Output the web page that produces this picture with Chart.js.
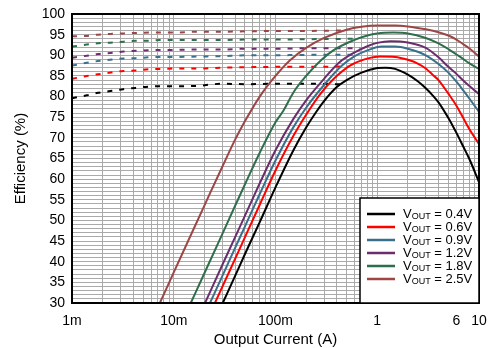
<!DOCTYPE html>
<html><head><meta charset="utf-8">
<script src="https://cdn.jsdelivr.net/npm/chart.js@4.4.0/dist/chart.umd.min.js"></script>
<style>html,body{margin:0;padding:0;background:#fff;}canvas{display:block;}</style>
</head><body>
<canvas id="c" width="490" height="348"></canvas>
<script>
const seriesLabels = ['0.4V', '0.6V', '0.9V', '1.2V', '1.8V', '2.5V'];
const seriesColors = ['#000000', '#ff0000', '#3a6f8c', '#6b2d6b', '#2f6e4c', '#9e4545'];

const curX04 = [0.0303,0.04,0.05,0.07,0.1,0.15,0.2,0.25,0.3,0.4,0.5,0.7,1.0,1.2,1.5,2,2.5,3,3.5,4,5,6,7,8,10];
const effY04 = [30,36.5,41.8,49.6,58.0,67.0,72.5,76.2,78.9,82.3,84.0,85.8,86.9,87.0,86.7,85.3,83.7,82.0,80.3,78.6,74.8,71.2,67.9,65.0,59.3];
const curX06 = [0.0254,0.035,0.05,0.07,0.1,0.15,0.2,0.275,0.37,0.54,0.75,1.07,1.5,2,2.5,3,3.5,4,5,6,7,8,10];
const effY06 = [30,37.5,45.9,53.8,62.1,70.5,75.6,80.6,84.2,87.5,89.0,89.7,89.6,88.9,88.0,86.8,85.3,84.0,80.7,77.8,74.8,72.2,68.5];
const curX09 = [0.0227,0.03,0.04,0.05,0.07,0.1,0.15,0.2,0.3,0.45,0.6,0.8,1.1,1.5,2,3,4,5,6,7,8,10];
const effY09 = [30,36.5,43.3,48.5,56.4,64.5,72.6,77.3,82.8,87.5,89.8,91.2,92.1,92.1,91.6,90.0,87.9,85.8,83.6,81.5,79.6,76.3];
const curX12 = [0.0203,0.03,0.04,0.05,0.07,0.1,0.15,0.2,0.3,0.42,0.6,0.8,1.0,1.35,2,3,4,5,6,7,8,10];
const effY12 = [30,39.2,45.9,51.1,59.0,67.0,74.6,79.1,84.3,88.2,90.7,92.2,93.0,93.4,93.1,91.8,89.5,87.2,85.5,83.9,82.6,80.6];
const curX18 = [0.0147,0.02,0.03,0.04,0.05,0.07,0.1,0.119,0.15,0.2,0.28,0.37,0.58,0.8,1.0,1.44,2,3,4,5,6,7,8,10];
const effY18 = [30,37.2,46.7,53.5,58.7,66.4,73.8,76.5,81.0,85.0,88.8,91.2,93.6,94.8,95.3,95.5,95.3,94.2,92.9,91.5,90.2,89.1,88.1,86.7];
const curX25 = [0.0073,0.01,0.015,0.02,0.03,0.04,0.05,0.07,0.1,0.139,0.2,0.3,0.5,0.7,1.0,1.5,2,3,4,5,6,7,8,10];
const effY25 = [30,37.4,46.9,53.6,63.0,69.5,74.0,80.0,85.0,88.8,91.8,94.2,96.2,96.9,97.2,97.2,97.0,96.3,95.6,94.8,93.8,92.7,91.7,89.7];

const lightX = [0.001,0.0014,0.0018,0.0025,0.0032,0.0042,0.0056,0.0073,0.01,0.017,0.03,0.05,0.1,0.2];
const lightEnd = [0.43, 0.52, 0.6, 0.68, 0.6, 0.45];
const lightY04 = [79.6,80.3,80.9,81.4,81.8,82.1,82.4,82.5,82.5,82.6,83.1,83.0,83.1,83.1,83.0];
const lightY06 = [84.3,85.0,85.4,85.9,86.2,86.3,86.6,86.7,86.8,86.8,87.0,87.1,87.2,87.2,87.3];
const lightY09 = [87.5,88.2,88.6,89.0,89.2,89.3,89.5,89.6,89.6,89.7,89.8,90.0,90.0,90.1,90.1];
const lightY12 = [89.4,89.9,90.3,90.6,90.9,91.1,91.2,91.3,91.3,91.4,91.4,91.6,91.6,91.7,91.7];
const lightY18 = [92.1,92.6,92.9,93.1,93.3,93.5,93.5,93.7,93.7,93.7,93.7,93.8,93.8,93.9,94.0];
const lightY25 = [94.6,94.7,95.0,95.2,95.3,95.4,95.5,95.5,95.5,95.7,95.7,95.8,95.9,95.9,96.0];

const xTickValues = [0.001, 0.01, 0.1, 1, 6, 10];
const xTickLabels = ['1m', '10m', '100m', '1', '6', '10'];
const xDecades = [0.001, 0.01, 0.1, 1];
const xMultipliers = [1, 2, 3, 4, 5, 6, 7, 8, 9];
const yMin = 30, yMax = 100, yGridStep = 1, yLabelStep = 5;

const FONT = '"Liberation Sans", Arial, Helvetica, sans-serif';

const solidX = [curX04, curX06, curX09, curX12, curX18, curX25];
const solidY = [effY04, effY06, effY09, effY12, effY18, effY25];
const lightYs = [lightY04, lightY06, lightY09, lightY12, lightY18, lightY25];

const datasets = [];
seriesLabels.forEach((lab, i) => {
  datasets.push({
    label: 'VOUT = ' + lab,
    data: solidX[i].map((x, k) => ({x: x, y: solidY[i][k]})),
    borderColor: seriesColors[i], borderWidth: 2, pointRadius: 0,
    cubicInterpolationMode: 'monotone', fill: false
  });
});
seriesLabels.forEach((lab, i) => {
  const xs = lightX.concat([lightEnd[i]]);
  datasets.push({
    label: 'light ' + lab,
    data: xs.map((x, k) => ({x: x, y: lightYs[i][k]})),
    borderColor: seriesColors[i], borderWidth: 2, pointRadius: 0,
    borderDash: [5, 7], cubicInterpolationMode: 'monotone', fill: false
  });
});

const xGrid = [];
xDecades.forEach(d => xMultipliers.forEach(m => xGrid.push(+(d * m).toPrecision(6))));
xGrid.push(10);
const yGrid = [];
for (let v = yMin; v <= yMax; v += yGridStep) yGrid.push(v);

const framePlugin = {
  id: 'frame',
  afterDatasetsDraw(chart) {
    const {ctx, chartArea: a} = chart;
    ctx.save();
    ctx.strokeStyle = '#000'; ctx.lineWidth = 2;
    ctx.strokeRect(a.left, a.top, a.right - a.left, a.bottom - a.top);
    ctx.restore();
  }
};

const legendPlugin = {
  id: 'voutLegend',
  afterDraw(chart) {
    const {ctx, chartArea: a} = chart;
    const w = 119, h = 105;
    const left = a.right - w, top = a.bottom - h;
    ctx.save();
    ctx.fillStyle = '#fff';
    ctx.fillRect(left, top, w, h);
    ctx.strokeStyle = '#000'; ctx.lineWidth = 1.5;
    ctx.strokeRect(left, top, w, h);
    seriesLabels.forEach((lab, i) => {
      const y = top + 16 + i * 13;
      ctx.strokeStyle = seriesColors[i]; ctx.lineWidth = 2.5;
      ctx.beginPath(); ctx.moveTo(left + 7, y); ctx.lineTo(left + 35, y); ctx.stroke();
      ctx.fillStyle = '#000'; ctx.textBaseline = 'middle'; ctx.textAlign = 'left';
      let x = left + 43;
      ctx.font = '13px ' + FONT;
      ctx.fillText('V', x, y); x += ctx.measureText('V').width;
      ctx.font = '9px ' + FONT;
      ctx.fillText('OUT', x, y + 2.5); x += ctx.measureText('OUT').width;
      ctx.font = '13px ' + FONT;
      ctx.fillText(' = ' + lab, x, y);
    });
    ctx.restore();
  }
};

new Chart(document.getElementById('c'), {
  type: 'line',
  data: {datasets: datasets},
  plugins: [framePlugin, legendPlugin],
  options: {
    responsive: false, animation: false, devicePixelRatio: 1,
    layout: {padding: {left: 0, top: 14, right: 11, bottom: 0}},
    plugins: {legend: {display: false}, tooltip: {enabled: false}},
    elements: {line: {tension: 0.4}},
    scales: {
      x: {
        type: 'logarithmic', min: 0.001, max: 10, position: 'bottom',
        afterBuildTicks: s => { s.ticks = xGrid.map(v => ({value: v})); },
        afterFit: s => { s.height = 45; s.paddingLeft = 0; s.paddingRight = 0; },
        ticks: {
          autoSkip: false, maxRotation: 0, minRotation: 0, padding: 10, color: '#000',
          font: {family: FONT, size: 14},
          callback: v => { const i = xTickValues.findIndex(t => Math.abs(t - v) / t < 1e-6); return i >= 0 ? xTickLabels[i] : ''; }
        },
        grid: {color: '#aaaaaa', lineWidth: 1, drawTicks: false},
        border: {display: false},
        title: {display: true, text: 'Output Current (A)', color: '#000', font: {family: FONT, size: 15}, padding: {top: 0, bottom: -1}}
      },
      y: {
        type: 'linear', min: yMin, max: yMax,
        afterBuildTicks: s => { s.ticks = yGrid.map(v => ({value: v})); },
        afterFit: s => { s.width = 72; s.paddingTop = 0; s.paddingBottom = 0; },
        ticks: {
          autoSkip: false, padding: 7, color: '#000',
          font: {family: FONT, size: 14},
          callback: v => (Math.round(v) % yLabelStep === 0 ? String(Math.round(v)) : '')
        },
        grid: {color: '#aaaaaa', lineWidth: 1, drawTicks: false},
        border: {display: false},
        title: {display: true, text: 'Efficiency (%)', color: '#000', font: {family: FONT, size: 15}, padding: {top: 12, bottom: 0}}
      }
    }
  }
});
</script>
</body></html>
